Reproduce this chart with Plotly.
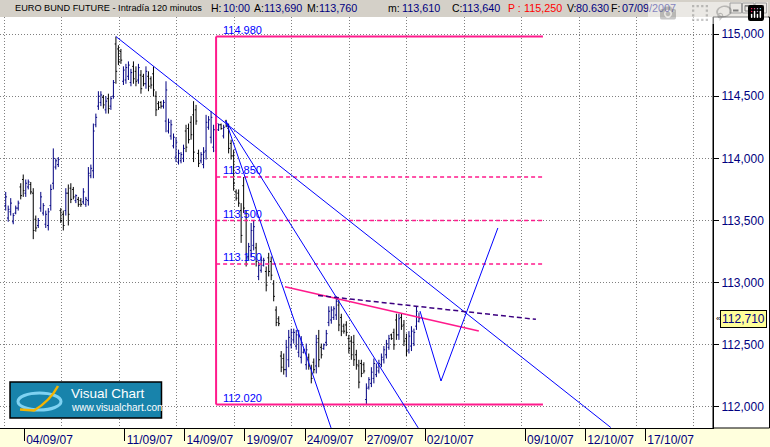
import plotly.graph_objects as go

# Euro Bund future, 120 minute bars (8 per session), 03/09/2007 -> 01/10/2007
bar_open = [
    113.62, 113.52, 113.57, 113.49, 113.56, 113.60, 113.77, 113.83,
    113.72, 113.77, 113.79, 113.72, 113.51, 113.46, 113.60, 113.56,
    113.47, 113.46, 113.62, 113.80, 113.93, 113.95, 113.58, 113.55,
    113.58, 113.72, 113.76, 113.75, 113.66, 113.67, 113.66, 113.65,
    113.63, 113.66, 113.86, 113.90, 114.27, 114.42, 114.45, 114.49,
    114.39, 114.48, 114.42, 114.50, 114.92, 114.88, 114.86, 114.62,
    114.63, 114.66, 114.61, 114.74, 114.70, 114.63, 114.67, 114.66,
    114.60, 114.66, 114.64, 114.68, 114.50, 114.44, 114.45, 114.42,
    114.30, 114.22, 114.18, 114.10, 114.01, 113.97, 113.98, 114.00,
    114.22, 114.24, 114.29, 114.35, 114.39, 114.04, 113.98, 113.95,
    114.06, 114.25, 114.17, 114.09, 114.06, 114.23, 114.27, 114.18,
    114.30, 114.24, 114.12, 114.02, 113.73, 113.72, 113.58, 113.78,
    113.50, 113.21, 113.26, 113.30, 113.28, 113.05, 113.10, 113.14,
    113.09, 113.20, 113.17, 112.99, 112.78, 112.71, 112.41, 112.39,
    112.30, 112.38, 112.50, 112.54, 112.49, 112.44, 112.40, 112.44,
    112.34, 112.40, 112.31, 112.36, 112.33, 112.55, 112.48, 112.47,
    112.52, 112.68, 112.70, 112.72, 112.74, 112.82, 112.72, 112.65,
    112.66, 112.55, 112.53, 112.52, 112.42, 112.33, 112.35, 112.34,
    112.06, 112.16, 112.19, 112.23, 112.26, 112.29, 112.34, 112.38,
    112.42, 112.48, 112.58, 112.60, 112.70, 112.58, 112.72, 112.66,
    112.55, 112.46, 112.49, 112.51, 112.65, 112.69,
]
bar_high = [
    113.73, 113.62, 113.68, 113.56, 113.62, 113.66, 113.80, 113.87,
    113.83, 113.83, 113.81, 113.76, 113.54, 113.52, 113.73, 113.64,
    113.58, 113.60, 113.79, 114.08, 114.00, 114.01, 113.60, 113.58,
    113.76, 113.79, 113.80, 113.77, 113.71, 113.69, 113.68, 113.76,
    113.69, 113.93, 113.95, 114.28, 114.36, 114.54, 114.54, 114.51,
    114.50, 114.52, 114.50, 114.63, 114.98, 114.91, 114.88, 114.74,
    114.76, 114.78, 114.72, 114.78, 114.74, 114.76, 114.71, 114.68,
    114.74, 114.70, 114.66, 114.74, 114.54, 114.46, 114.46, 114.47,
    114.62, 114.32, 114.31, 114.20, 114.17, 114.07, 114.05, 114.11,
    114.27, 114.28, 114.34, 114.46, 114.43, 114.07, 114.05, 114.09,
    114.35, 114.34, 114.38, 114.27, 114.35, 114.28, 114.28, 114.27,
    114.31, 114.28, 114.15, 114.07, 113.75, 113.75, 113.64, 113.85,
    113.58, 113.32, 113.48, 113.50, 113.32, 113.17, 113.21, 113.20,
    113.13, 113.24, 113.21, 113.02, 112.81, 112.73, 112.45, 112.43,
    112.54, 112.62, 112.63, 112.63, 112.62, 112.62, 112.57, 112.47,
    112.51, 112.43, 112.34, 112.39, 112.58, 112.62, 112.51, 112.51,
    112.62, 112.81, 112.81, 112.81, 112.89, 112.86, 112.75, 112.67,
    112.69, 112.58, 112.57, 112.58, 112.46, 112.38, 112.38, 112.36,
    112.19, 112.24, 112.32, 112.39, 112.35, 112.38, 112.43, 112.49,
    112.54, 112.58, 112.59, 112.63, 112.75, 112.75, 112.75, 112.70,
    112.59, 112.61, 112.65, 112.63, 112.81, 112.76,
]
bar_low = [
    113.58, 113.49, 113.54, 113.47, 113.55, 113.58, 113.67, 113.69,
    113.69, 113.75, 113.71, 113.35, 113.41, 113.44, 113.57, 113.54,
    113.44, 113.42, 113.58, 113.75, 113.91, 113.93, 113.48, 113.42,
    113.54, 113.46, 113.64, 113.67, 113.64, 113.61, 113.61, 113.63,
    113.61, 113.62, 113.84, 113.84, 114.25, 114.39, 114.42, 114.40,
    114.36, 114.36, 114.39, 114.48, 114.60, 114.75, 114.76, 114.59,
    114.60, 114.63, 114.58, 114.60, 114.58, 114.60, 114.52, 114.58,
    114.56, 114.54, 114.56, 114.50, 114.34, 114.39, 114.40, 114.40,
    114.21, 114.20, 114.15, 114.08, 113.97, 113.95, 113.96, 113.97,
    114.05, 114.12, 114.15, 113.97, 114.27, 113.93, 113.96, 113.92,
    113.99, 114.23, 114.12, 114.05, 114.00, 114.22, 114.23, 114.16,
    114.25, 114.04, 113.99, 113.74, 113.66, 113.61, 113.32, 113.56,
    113.13, 113.18, 113.21, 113.26, 113.13, 113.02, 113.08, 113.13,
    112.93, 113.05, 113.02, 112.85, 112.65, 112.65, 112.28, 112.26,
    112.24, 112.32, 112.47, 112.51, 112.46, 112.40, 112.35, 112.43,
    112.30, 112.30, 112.19, 112.27, 112.27, 112.32, 112.39, 112.46,
    112.49, 112.65, 112.67, 112.70, 112.70, 112.61, 112.57, 112.59,
    112.57, 112.43, 112.38, 112.33, 112.30, 112.15, 112.24, 112.27,
    112.02, 112.14, 112.16, 112.19, 112.24, 112.27, 112.32, 112.35,
    112.39, 112.46, 112.54, 112.46, 112.54, 112.54, 112.62, 112.49,
    112.41, 112.43, 112.45, 112.49, 112.62, 112.68,
]
bar_close = [
    113.69, 113.59, 113.64, 113.54, 113.60, 113.64, 113.70, 113.74,
    113.80, 113.81, 113.73, 113.42, 113.44, 113.50, 113.69, 113.62,
    113.55, 113.57, 113.75, 114.00, 113.98, 113.99, 113.50, 113.46,
    113.72, 113.55, 113.67, 113.69, 113.70, 113.63, 113.63, 113.73,
    113.67, 113.88, 113.92, 114.22, 114.33, 114.50, 114.51, 114.43,
    114.46, 114.40, 114.48, 114.61, 114.70, 114.78, 114.79, 114.71,
    114.73, 114.75, 114.69, 114.64, 114.62, 114.73, 114.56, 114.60,
    114.70, 114.58, 114.59, 114.55, 114.39, 114.41, 114.42, 114.45,
    114.55, 114.29, 114.27, 114.17, 114.13, 114.04, 114.03, 114.08,
    114.09, 114.15, 114.19, 114.05, 114.30, 113.96, 114.03, 114.05,
    114.29, 114.31, 114.33, 114.23, 114.28, 114.27, 114.24, 114.25,
    114.26, 114.08, 114.02, 113.80, 113.68, 113.64, 113.38, 113.60,
    113.20, 113.29, 113.42, 113.45, 113.17, 113.14, 113.18, 113.18,
    112.98, 113.09, 113.06, 112.89, 112.68, 112.67, 112.32, 112.30,
    112.48, 112.56, 112.60, 112.60, 112.58, 112.57, 112.52, 112.46,
    112.46, 112.33, 112.23, 112.30, 112.52, 112.38, 112.42, 112.50,
    112.59, 112.77, 112.78, 112.79, 112.85, 112.66, 112.61, 112.61,
    112.60, 112.47, 112.42, 112.38, 112.34, 112.20, 112.27, 112.29,
    112.15, 112.22, 112.28, 112.35, 112.32, 112.35, 112.40, 112.46,
    112.51, 112.55, 112.55, 112.50, 112.58, 112.71, 112.65, 112.53,
    112.45, 112.57, 112.61, 112.60, 112.77, 112.71,
]
last_price = 112.71

bars_per_day = 8
date_labels = ["04/09/07", "11/09/07", "14/09/07", "19/09/07", "24/09/07",
               "27/09/07", "02/10/07", "09/10/07", "12/10/07", "17/10/07"]
date_day_index = [1, 6, 9, 12, 15, 18, 21, 26, 29, 32]

# fibonacci retracement drawn from the 114.98 top to the 112.02 low
fib_levels = [114.98, 113.85, 113.50, 113.15, 112.02]
fib_bar_start, fib_bar_end = 84.0, 214.5

# hand drawn lines: bar positions and prices
trend_main_x, trend_main_y = [44, 241.6], [114.98, 111.835]
fan_steep_x, fan_steep_y = [87.9, 129.9], [114.30, 111.832]
fan_mid_x, fan_mid_y = [87.9, 164.7], [114.30, 111.832]
neck_x, neck_y = [111.5, 188.9], [112.967, 112.611]
neck_dash_x, neck_dash_y = [124.7, 211.7], [112.897, 112.705]
proj_x, proj_y = [165.4, 173.8, 196.5], [112.772, 112.209, 113.44]

# header bar: key and value positions
header_key_x = [209, 252, 305, 386, 450, 565, 609]
header_val_x = [221, 262, 317, 400, 460, 574, 620]
header_keys = ["H:", "A:", "M:", "m:", "C:", "V:", "F:"]
header_vals = ["10:00", "113,690", "113,760", "113,610", "113,640", "80.630", "07/09/2007"]

PINK = "#ff1a8c"
BLUE = "#0000ff"
NAVY = "#000080"
FONT = "Liberation Sans, Arial, sans-serif"

# page geometry (pixels) used for the window decorations
W, H = 770, 447
PL, PR, PT, PB = 0, 713, 17, 428


def px(x):
    return (x - PL) / (PR - PL)


def py(y):
    return (PB - y) / (PB - PT)


fig = go.Figure()

fig.add_trace(go.Ohlc(
    x=list(range(len(bar_open))),
    open=bar_open, high=bar_high, low=bar_low, close=bar_close,
    increasing=dict(line=dict(color=NAVY, width=1)),
    decreasing=dict(line=dict(color="#000000", width=1)),
    tickwidth=0.5,
    hoverinfo="skip",
))

# fibonacci box
fig.add_trace(go.Scatter(
    x=[fib_bar_start, fib_bar_start], y=[min(fib_levels), max(fib_levels)],
    mode="lines", line=dict(color=PINK, width=2), hoverinfo="skip"))
for lvl in fib_levels:
    edge = lvl in (min(fib_levels), max(fib_levels))
    fig.add_trace(go.Scatter(
        x=[fib_bar_start, fib_bar_end], y=[lvl, lvl], mode="lines",
        line=dict(color=PINK, width=2 if edge else 1.5,
                  dash="solid" if edge else "4px,3px"),
        hoverinfo="skip"))
    fig.add_annotation(
        x=fib_bar_start + 1.8, y=lvl, xref="x", yref="y",
        text=f"{lvl:.3f}", showarrow=False, xanchor="left", yanchor="bottom",
        font=dict(family=FONT, size=11, color=BLUE), yshift=-1)

for lx, ly, col, w, dash in [
    (trend_main_x, trend_main_y, BLUE, 1, "solid"),
    (fan_steep_x, fan_steep_y, BLUE, 1, "solid"),
    (fan_mid_x, fan_mid_y, BLUE, 1, "solid"),
    (neck_x, neck_y, PINK, 1.5, "solid"),
    (neck_dash_x, neck_dash_y, "#3c0080", 1.5, "5px,3px"),
    (proj_x, proj_y, BLUE, 1, "solid"),
]:
    fig.add_trace(go.Scatter(x=lx, y=ly, mode="lines",
                             line=dict(color=col, width=w, dash=dash),
                             hoverinfo="skip"))

shapes = []
# title bar
shapes.append(dict(type="rect", xref="paper", yref="paper", x0=px(0), x1=px(W),
                   y0=py(PT), y1=py(0), fillcolor="#d4d0c8", line_width=0, layer="below"))
# yellow date strip
shapes.append(dict(type="rect", xref="paper", yref="paper", x0=px(0), x1=px(W),
                   y0=py(H), y1=py(PB), fillcolor="#ffffdd", line_width=0, layer="below"))
# price scale panel border
shapes.append(dict(type="rect", xref="paper", yref="paper", x0=px(PR), x1=px(769.5),
                   y0=py(PB), y1=py(PT), line=dict(color="black", width=1), layer="above"))

# window buttons
for bx in [730, 742.5, 755]:
    shapes.append(dict(type="rect", xref="paper", yref="paper", x0=px(bx), x1=px(bx + 11.5),
                       y0=py(13), y1=py(3), fillcolor="#d4d0c8",
                       line=dict(color="#404040", width=1), layer="above"))
shapes.append(dict(type="line", xref="paper", yref="paper", x0=px(733), x1=px(738.5),
                   y0=py(10.5), y1=py(10.5), line=dict(color="black", width=2), layer="above"))
shapes.append(dict(type="rect", xref="paper", yref="paper", x0=px(745), x1=px(751.5),
                   y0=py(11), y1=py(5.5), line=dict(color="black", width=1), layer="above"))
shapes.append(dict(type="line", xref="paper", yref="paper", x0=px(745), x1=px(751.5),
                   y0=py(6), y1=py(6), line=dict(color="black", width=1.5), layer="above"))
shapes.append(dict(type="line", xref="paper", yref="paper", x0=px(758), x1=px(763.5),
                   y0=py(5.5), y1=py(11), line=dict(color="black", width=1.5), layer="above"))
shapes.append(dict(type="line", xref="paper", yref="paper", x0=px(758), x1=px(763.5),
                   y0=py(11), y1=py(5.5), line=dict(color="black", width=1.5), layer="above"))

# Visual Chart logo
shapes.append(dict(type="rect", xref="paper", yref="paper", x0=px(10), x1=px(161.5),
                   y0=py(418), y1=py(382), fillcolor="#1883ab",
                   line=dict(color="black", width=1.5), layer="above"))
shapes.append(dict(type="circle", xref="paper", yref="paper", x0=px(18), x1=px(61),
                   y0=py(410), y1=py(393), line=dict(color="#7fd2f2", width=3), layer="above"))
shapes.append(dict(type="path", xref="paper", yref="paper",
                   path=f"M {px(58)},{py(386)} Q {px(50)},{py(401)} {px(34)},{py(410.5)} L {px(20)},{py(409.5)}",
                   line=dict(color="#f5b400", width=2.5), layer="above"))

fig.update_layout(shapes=shapes)

# header texts
fig.add_annotation(x=px(13), y=py(8.5), xref="paper", yref="paper", showarrow=False,
                   xanchor="left", yanchor="middle",
                   text="EURO BUND FUTURE - Intradía 120 minutos",
                   font=dict(family=FONT, size=9.2, color="black"))
for kx, key in zip(header_key_x, header_keys):
    fig.add_annotation(x=px(kx), y=py(8.5), xref="paper", yref="paper", showarrow=False,
                       xanchor="left", yanchor="middle", text=key,
                       font=dict(family=FONT, size=10.5, color="black"))
for vx, val in zip(header_val_x, header_vals):
    fig.add_annotation(x=px(vx), y=py(8.5), xref="paper", yref="paper", showarrow=False,
                       xanchor="left", yanchor="middle", text=val,
                       font=dict(family=FONT, size=10.8, color=NAVY))
fig.add_annotation(x=px(506), y=py(8.5), xref="paper", yref="paper", showarrow=False,
                   xanchor="left", yanchor="middle", text="P :",
                   font=dict(family=FONT, size=10.5, color="#ff0000"))
fig.add_annotation(x=px(522), y=py(8.5), xref="paper", yref="paper", showarrow=False,
                   xanchor="left", yanchor="middle", text="115,250",
                   font=dict(family=FONT, size=10.8, color="#ff0000"))

# last price marker
fig.add_annotation(x=px(720), y=last_price, xref="paper", yref="y", showarrow=False,
                   xanchor="left", yanchor="middle", text=f"{last_price:.3f}".replace(".", ","),
                   bgcolor="#ffff99", bordercolor="black", borderwidth=1, borderpad=1,
                   font=dict(family=FONT, size=12, color=NAVY))
fig.add_annotation(x=px(714), y=last_price, xref="paper", yref="y", showarrow=False,
                   xanchor="left", yanchor="middle", text="«",
                   font=dict(family=FONT, size=8, color="black"))

# logo texts
fig.add_annotation(x=px(69), y=py(393.5), xref="paper", yref="paper", showarrow=False,
                   xanchor="left", yanchor="middle", text="Visual Chart",
                   font=dict(family=FONT, size=13.5, color="white"))
fig.add_annotation(x=px(69), y=py(407.5), xref="paper", yref="paper", showarrow=False,
                   xanchor="left", yanchor="middle", text="www.visualchart.com",
                   font=dict(family=FONT, size=10, color="white"))

fig.update_layout(
    width=W, height=H,
    margin=dict(l=PL, r=W - PR, t=PT, b=H - PB, autoexpand=False),
    paper_bgcolor="white", plot_bgcolor="white",
    showlegend=False,
    separators=",.",
    xaxis=dict(
        range=[-2.28, 282.4],
        tickmode="array",
        tickvals=[d * bars_per_day - 0.5 for d in date_day_index],
        ticktext=date_labels,
        ticks="outside", ticklen=12, tickcolor="black", tickwidth=1,
        tickfont=dict(family=FONT, size=12, color=NAVY),
        ticklabelshift=25, ticklabelstandoff=-11,
        showgrid=False, zeroline=False,
        showline=True, linecolor="black", linewidth=1,
        minor=dict(tick0=-0.6, dtick=22.95, showgrid=True, gridcolor="#808080",
                   griddash="1px,2px", gridwidth=1, ticks=""),
        rangeslider=dict(visible=False),
        automargin=False, fixedrange=True,
    ),
    yaxis=dict(
        side="right",
        range=[111.831, 115.137],
        tick0=112, dtick=0.5, tickformat=".3f",
        showgrid=True, gridcolor="#808080", griddash="1px,2px", gridwidth=1,
        ticks="outside", ticklen=5, tickcolor="black",
        tickfont=dict(family=FONT, size=12, color=NAVY),
        showline=True, linecolor="black", linewidth=1,
        zeroline=False, automargin=False, fixedrange=True,
    ),
)

# the page body has a default 8px margin; remove it so the chart sits at the corner
fig.write_html("out.html", post_script="document.body.style.margin='0';")
